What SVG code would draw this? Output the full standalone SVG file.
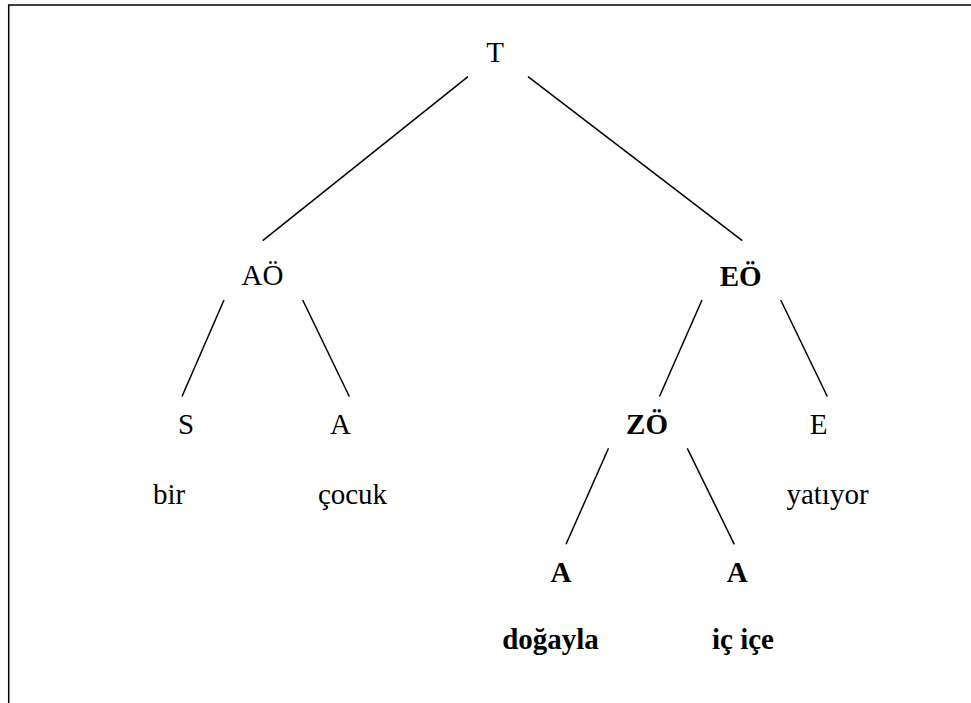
<svg xmlns="http://www.w3.org/2000/svg" width="971" height="703" viewBox="0 0 971 703">
<style>
text{font-family:"Liberation Serif","Times New Roman",serif;font-size:29px;fill:#000;text-anchor:middle}
.b{font-weight:bold}
.e line{stroke:#000;stroke-width:1.5}
.f{fill:none;stroke:#000;stroke-width:1.5}
</style>
<rect width="971" height="703" fill="#fff"/>
<path class="f" d="M8.7,703 V5 H971"/>
<g class="e" id="connectors">
<line x1="468" y1="76.7" x2="262.7" y2="240.7"/>
<line x1="528" y1="76.7" x2="742.3" y2="240.7"/>
<line x1="224" y1="300" x2="182" y2="396.5"/>
<line x1="302.7" y1="300" x2="349.3" y2="396.5"/>
<line x1="702" y1="300" x2="659.5" y2="396.5"/>
<line x1="780.7" y1="300" x2="827.3" y2="396.5"/>
<line x1="608.5" y1="448.3" x2="566" y2="544.3"/>
<line x1="687.3" y1="448.3" x2="734.3" y2="544.3"/>
</g>
<g id="T"><text x="495" y="62">T</text></g>
<g id="AO"><text x="262.5" y="285">AÖ</text></g>
<g id="EO"><text class="b" x="740.7" y="286">EÖ</text></g>
<g id="S"><text x="186" y="434">S</text><text x="169" y="504">bir</text></g>
<g id="A1"><text x="340.5" y="433.5">A</text><text x="352.5" y="504">çocuk</text></g>
<g id="ZO"><text class="b" x="647" y="433.5">ZÖ</text></g>
<g id="E"><text x="818.5" y="433.5">E</text><text x="827.5" y="504">yatıyor</text></g>
<g id="A2"><text class="b" x="561" y="581.5">A</text><text class="b" x="550.5" y="648.5">doğayla</text></g>
<g id="A3"><text class="b" x="737.3" y="581.5">A</text><text class="b" x="743" y="648.5">iç içe</text></g>
</svg>
